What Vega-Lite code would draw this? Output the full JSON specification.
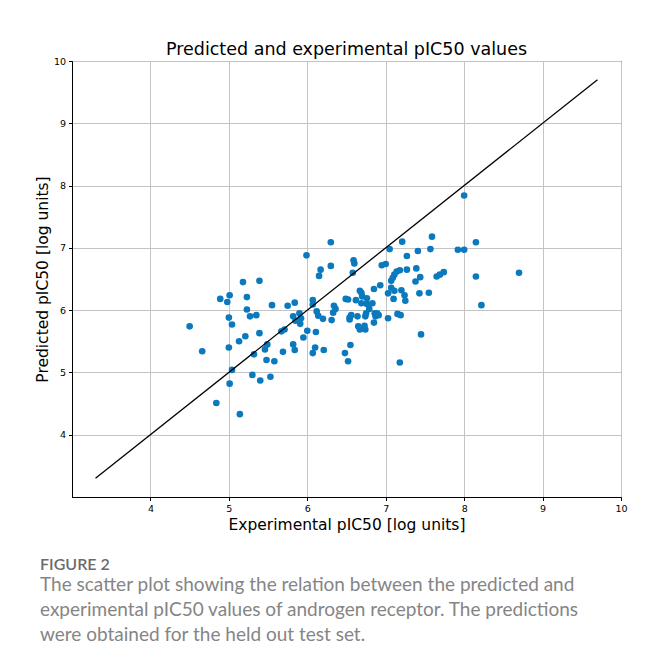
{
  "$schema": "https://vega.github.io/schema/vega-lite/v6.json",
  "background": "white",
  "padding": {"left": 34, "top": 40, "right": 20, "bottom": 10},
  "datasets": {
    "diag": [{"v": 3.3}, {"v": 9.7}],
    "pts": [
      {"exp": 4.50, "pred": 5.74}, {"exp": 4.66, "pred": 5.34}, {"exp": 4.84, "pred": 4.51}, {"exp": 4.89, "pred": 6.18},
      {"exp": 5.01, "pred": 6.24}, {"exp": 4.98, "pred": 6.13}, {"exp": 5.18, "pred": 6.45}, {"exp": 5.23, "pred": 6.21},
      {"exp": 5.23, "pred": 6.01}, {"exp": 5.27, "pred": 5.90}, {"exp": 5.35, "pred": 5.92}, {"exp": 5.39, "pred": 6.47},
      {"exp": 5.00, "pred": 5.88}, {"exp": 5.04, "pred": 5.77}, {"exp": 5.00, "pred": 5.40}, {"exp": 5.13, "pred": 5.50},
      {"exp": 5.21, "pred": 5.58}, {"exp": 5.39, "pred": 5.63}, {"exp": 5.32, "pred": 5.29}, {"exp": 5.04, "pred": 5.04},
      {"exp": 5.01, "pred": 4.82}, {"exp": 5.30, "pred": 4.96}, {"exp": 5.40, "pred": 4.87}, {"exp": 5.14, "pred": 4.33},
      {"exp": 5.53, "pred": 4.93}, {"exp": 5.49, "pred": 5.45}, {"exp": 5.46, "pred": 5.37}, {"exp": 5.48, "pred": 5.20},
      {"exp": 5.58, "pred": 5.18}, {"exp": 5.67, "pred": 5.66}, {"exp": 5.71, "pred": 5.69}, {"exp": 5.82, "pred": 5.45},
      {"exp": 5.84, "pred": 5.36}, {"exp": 5.69, "pred": 5.33}, {"exp": 5.55, "pred": 6.08}, {"exp": 5.75, "pred": 6.07},
      {"exp": 5.84, "pred": 6.12}, {"exp": 5.82, "pred": 5.90}, {"exp": 5.90, "pred": 5.95}, {"exp": 5.92, "pred": 5.87},
      {"exp": 5.91, "pred": 5.78}, {"exp": 5.85, "pred": 5.83}, {"exp": 5.95, "pred": 5.56}, {"exp": 6.00, "pred": 5.67},
      {"exp": 6.11, "pred": 5.65}, {"exp": 5.99, "pred": 6.88}, {"exp": 6.30, "pred": 7.09}, {"exp": 6.59, "pred": 6.80},
      {"exp": 6.60, "pred": 6.75}, {"exp": 6.30, "pred": 6.71}, {"exp": 6.17, "pred": 6.65}, {"exp": 6.15, "pred": 6.55},
      {"exp": 6.58, "pred": 6.60}, {"exp": 6.07, "pred": 6.16}, {"exp": 6.07, "pred": 6.09}, {"exp": 6.12, "pred": 5.98},
      {"exp": 6.14, "pred": 5.91}, {"exp": 6.20, "pred": 5.86}, {"exp": 6.31, "pred": 5.84}, {"exp": 6.34, "pred": 6.07},
      {"exp": 6.36, "pred": 6.02}, {"exp": 6.33, "pred": 5.96}, {"exp": 6.49, "pred": 6.18}, {"exp": 6.52, "pred": 6.17},
      {"exp": 6.62, "pred": 6.16}, {"exp": 6.69, "pred": 6.11}, {"exp": 6.76, "pred": 6.10}, {"exp": 6.83, "pred": 6.11},
      {"exp": 6.76, "pred": 6.19}, {"exp": 6.67, "pred": 6.31}, {"exp": 6.69, "pred": 6.28}, {"exp": 6.70, "pred": 6.22},
      {"exp": 6.85, "pred": 6.34}, {"exp": 6.93, "pred": 6.40}, {"exp": 7.03, "pred": 6.27}, {"exp": 7.10, "pred": 6.18},
      {"exp": 7.07, "pred": 6.36}, {"exp": 7.11, "pred": 6.31}, {"exp": 7.07, "pred": 6.47}, {"exp": 7.09, "pred": 6.52},
      {"exp": 7.11, "pred": 6.57}, {"exp": 7.14, "pred": 6.62}, {"exp": 6.95, "pred": 6.72}, {"exp": 7.00, "pred": 6.74},
      {"exp": 7.05, "pred": 6.98}, {"exp": 6.54, "pred": 5.88}, {"exp": 6.54, "pred": 5.85}, {"exp": 6.56, "pred": 5.92},
      {"exp": 6.64, "pred": 5.90}, {"exp": 6.74, "pred": 5.90}, {"exp": 6.75, "pred": 5.95}, {"exp": 6.79, "pred": 6.02},
      {"exp": 6.86, "pred": 5.95}, {"exp": 6.89, "pred": 5.95}, {"exp": 6.87, "pred": 5.90}, {"exp": 6.91, "pred": 5.92},
      {"exp": 7.03, "pred": 5.87}, {"exp": 6.85, "pred": 5.80}, {"exp": 6.65, "pred": 5.74}, {"exp": 6.67, "pred": 5.69},
      {"exp": 6.74, "pred": 5.69}, {"exp": 6.73, "pred": 5.75}, {"exp": 6.10, "pred": 5.40}, {"exp": 6.07, "pred": 5.31},
      {"exp": 6.21, "pred": 5.36}, {"exp": 6.55, "pred": 5.44}, {"exp": 6.48, "pred": 5.31}, {"exp": 6.52, "pred": 5.18},
      {"exp": 7.18, "pred": 5.16}, {"exp": 7.19, "pred": 5.92}, {"exp": 7.15, "pred": 5.94}, {"exp": 7.21, "pred": 7.10},
      {"exp": 7.59, "pred": 7.18}, {"exp": 8.15, "pred": 7.09}, {"exp": 7.41, "pred": 6.95}, {"exp": 7.57, "pred": 6.98},
      {"exp": 7.92, "pred": 6.97}, {"exp": 8.00, "pred": 6.97}, {"exp": 7.27, "pred": 6.87}, {"exp": 7.18, "pred": 6.64},
      {"exp": 7.27, "pred": 6.65}, {"exp": 7.39, "pred": 6.67}, {"exp": 7.44, "pred": 6.53}, {"exp": 7.38, "pred": 6.46},
      {"exp": 7.65, "pred": 6.54}, {"exp": 7.69, "pred": 6.57}, {"exp": 7.74, "pred": 6.61}, {"exp": 8.15, "pred": 6.54},
      {"exp": 8.70, "pred": 6.60}, {"exp": 7.20, "pred": 6.32}, {"exp": 7.24, "pred": 6.24}, {"exp": 7.25, "pred": 6.15},
      {"exp": 7.43, "pred": 6.27}, {"exp": 7.55, "pred": 6.28}, {"exp": 8.22, "pred": 6.08}, {"exp": 7.45, "pred": 5.61},
      {"exp": 8.00, "pred": 7.84}
    ]
  },
  "title": {
    "text": "FIGURE 2",
    "subtitle": [
      "The scatter plot showing the relation between the predicted and",
      "experimental pIC50 values of androgen receptor. The predictions",
      "were obtained for the held out test set."
    ],
    "orient": "bottom",
    "anchor": "start",
    "frame": "group",
    "offset": 24,
    "dx": -32,
    "font": "Lato",
    "fontSize": 16,
    "fontWeight": 600,
    "color": "#6b6b6b",
    "subtitleFont": "Lato",
    "subtitleFontSize": 19,
    "subtitleColor": "#858585",
    "subtitleLineHeight": 25,
    "subtitlePadding": 3
  },
  "vconcat": [
    {
      "title": {
        "text": "Predicted and experimental pIC50 values",
        "font": "DejaVu Sans",
        "fontSize": 17.5,
        "fontWeight": "normal",
        "color": "black",
        "anchor": "middle",
        "offset": -2
      },
      "width": 549,
      "height": 436,
      "layer": [
        {
          "data": {"name": "pts"},
          "mark": {"type": "circle", "size": 44, "color": "#0a79bd", "opacity": 1},
          "encoding": {
            "x": {"field": "exp", "type": "quantitative", "scale": {"domain": [3, 10], "nice": false, "zero": false},
                  "axis": {"values": [4, 5, 6, 7, 8, 9, 10], "format": "d", "title": "Experimental pIC50 [log units]", "labelFlush": false, "titlePadding": 4}},
            "y": {"field": "pred", "type": "quantitative", "scale": {"domain": [3, 10], "nice": false, "zero": false},
                  "axis": {"values": [4, 5, 6, 7, 8, 9, 10], "format": "d", "title": "Predicted pIC50 [log units]", "labelFlush": false, "titlePadding": 3}}
          }
        },
        {
          "data": {"name": "diag"},
          "mark": {"type": "line", "color": "black", "strokeWidth": 1.3},
          "encoding": {
            "x": {"field": "v", "type": "quantitative"},
            "y": {"field": "v", "type": "quantitative"}
          }
        }
      ]
    }
  ],
  "config": {
    "view": {"stroke": "black", "strokeWidth": 1},
    "axis": {
      "domainColor": "black", "domainWidth": 1,
      "tickColor": "black", "tickSize": 3.5, "tickWidth": 1,
      "labelFont": "DejaVu Sans", "labelFontSize": 9.5, "labelColor": "black", "labelPadding": 3,
      "titleFont": "DejaVu Sans", "titleFontSize": 15.5, "titleFontWeight": "normal", "titleColor": "black",
      "gridColor": "#c4c4c4", "gridWidth": 1
    }
  }
}
